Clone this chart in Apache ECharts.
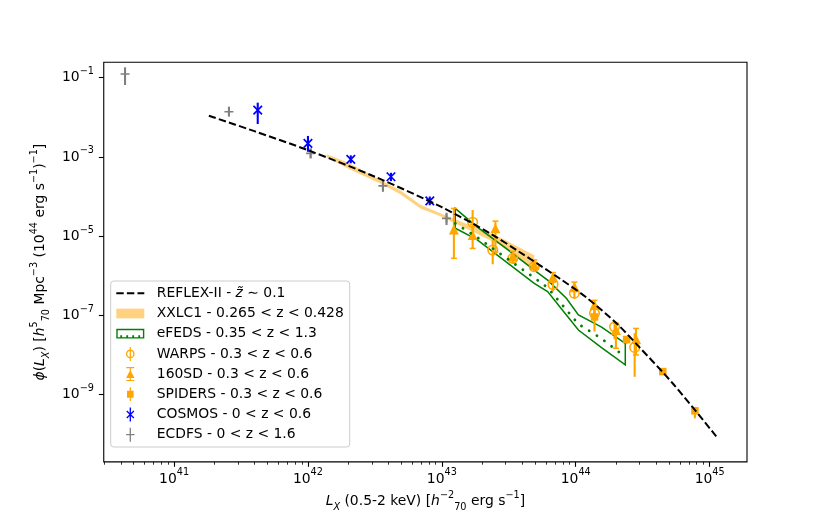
<!DOCTYPE html>
<html>
<head>
<meta charset="utf-8">
<script src="https://cdn.jsdelivr.net/npm/echarts@6/dist/echarts.min.js"></script>
<style>
  html, body { margin: 0; padding: 0; background: #fff; }
  #chart { width: 830px; height: 519px; }
</style>
</head>
<body>
<div id="chart"></div>
<script>
// every value below is log10(L_X) or log10(phi)
const xMajorTicks = [41, 42, 43, 44, 45];
const yMajorTicks = [-9, -7, -5, -3, -1];

const reflexLogLx  = [41.26, 41.6, 42.0, 42.5, 43.0, 43.36, 43.58, 43.88, 44.08, 44.31, 44.48, 44.73, 45.06];
const reflexLogPhi = [-1.96, -2.35, -2.83, -3.50, -4.27, -4.93, -5.40, -6.07, -6.55, -7.22, -7.82, -8.74, -10.10];

const xxlLogLx = [42.14, 42.31, 42.54, 42.69, 42.84, 42.99, 43.25, 43.43, 43.69];
const xxlUpper = [-2.93, -3.16, -3.58, -3.84, -4.21, -4.42, -4.78, -5.02, -5.48];
const xxlLower = [-3.01, -3.31, -3.67, -3.94, -4.30, -4.50, -4.92, -5.22, -5.86];

const efedsLogLx  = [43.10, 43.26, 43.48, 43.69, 43.79, 43.93, 44.02, 44.19, 44.37];
const efedsUpper  = [-4.30, -4.76, -5.31, -5.86, -6.11, -6.57, -6.99, -7.29, -7.71];
const efedsLower  = [-4.80, -5.08, -5.65, -6.19, -6.40, -6.99, -7.37, -7.81, -8.25];
const efedsMedian = [-4.68, -5.02, -5.55, -6.05, -6.30, -6.86, -7.22, -7.58, -8.05];

const warpsLogLx  = [43.23, 43.38, 43.53, 43.69, 43.83, 43.99, 44.14, 44.29, 44.44];
const warpsLogPhi = [-4.65, -5.35, -5.56, -5.77, -6.22, -6.44, -6.95, -7.29, -7.81];
const warpsLo     = [-4.98, -5.71, -5.70, -5.90, -6.40, -6.58, -7.15, -7.60, -8.55];
const warpsHi     = [-4.34, -5.10, -5.44, -5.66, -6.05, -6.30, -6.80, -7.16, -7.45];

const sdLogLx  = [43.09, 43.23, 43.40, 43.53, 43.69, 43.83, 43.99, 44.14, 44.30, 44.45];
const sdLogPhi = [-4.83, -4.97, -4.80, -5.50, -5.72, -6.03, -6.28, -6.74, -7.37, -7.60];
const sdLo     = [-5.56, -5.31, -5.40, -5.62, -5.84, -6.16, -6.40, -7.00, -7.83, -8.00];
const sdHi     = [-4.30, -4.70, -4.62, -5.38, -5.60, -5.92, -6.16, -6.62, -7.20, -7.33];

const spidersLogLx  = [44.14, 44.38, 44.65, 44.89];
const spidersLogPhi = [-7.04, -7.61, -8.42, -9.41];
const spidersLo     = [-7.41, -7.72, -8.47, -9.60];
const spidersHi     = [-6.90, -7.52, -8.37, -9.31];

const cosmosLogLx  = [41.625, 42.0, 42.32, 42.62, 42.91];
const cosmosLogPhi = [-1.82, -2.66, -3.06, -3.50, -4.11];
const cosmosLo     = [-2.17, -2.87, -3.16, -3.61, -4.22];
const cosmosHi     = [-1.63, -2.47, -2.96, -3.40, -4.00];

const ecdfsLogLx  = [40.634, 41.41, 42.02, 42.56, 43.035];
const ecdfsLogPhi = [-0.907, -1.86, -2.91, -3.73, -4.55];
const ecdfsLo     = [-1.184, -1.98, -3.04, -3.88, -4.72];
const ecdfsHi     = [-0.737, -1.73, -2.78, -3.58, -4.41];

const xMin = 40.475, xMax = 45.279;
const yMin = -10.70, yMax = -0.611;

const FONT = 'DejaVu Sans';
const FS = 13.9;
const ORANGE = '#FFA500', BLUE = '#0000FF', GRAY = '#808080', GREEN = '#008000';

const NAMES = {
  reflex: 'REFLEX-II - z\u0303 \u223C 0.1',
  xxl: 'XXLC1 - 0.265 < z < 0.428',
  efeds: 'eFEDS - 0.35 < z < 1.3',
  warps: 'WARPS - 0.3 < z < 0.6',
  sd: '160SD - 0.3 < z < 0.6',
  spiders: 'SPIDERS - 0.3 < z < 0.6',
  cosmos: 'COSMOS - 0 < z < 0.6',
  ecdfs: 'ECDFS - 0 < z < 1.6'
};

// minor ticks for the log x axis (2..9 x 10^n)
const xMinorTicks = [];
for (let n = 40; n <= 45; n++) {
  for (let k = 2; k <= 9; k++) {
    const v = n + Math.log10(k);
    if (v > xMin && v < xMax) xMinorTicks.push(v);
  }
}

const pts = (xs, ys) => xs.map((x, i) => [x, ys[i]]);

const tickRich = {
  b: { fontFamily: FONT, fontSize: FS, lineHeight: 22, color: '#000' },
  s: { fontFamily: FONT, fontSize: 9.7, lineHeight: 12, verticalAlign: 'top', color: '#000' }
};
const powLabel = v => {
  const n = Math.round(v);
  return '{b|10}{s|' + (n < 0 ? '\u2212' + (-n) : n) + '}';
};

const nameRich = {
  t: { fontFamily: FONT, fontSize: FS, lineHeight: 22, color: '#000' },
  i: { fontFamily: FONT, fontSize: FS, lineHeight: 22, fontStyle: 'italic', color: '#000' },
  sup: { fontFamily: FONT, fontSize: 9.7, lineHeight: 12, verticalAlign: 'top', color: '#000' },
  sub: { fontFamily: FONT, fontSize: 9.7, lineHeight: 13, verticalAlign: 'bottom', fontStyle: 'italic', color: '#000' },
  subn: { fontFamily: FONT, fontSize: 9.7, lineHeight: 13, verticalAlign: 'bottom', color: '#000' }
};

function errorBars(name, xs, lo, hi, color, cap) {
  return {
    type: 'custom',
    name: name,
    silent: true,
    data: xs.map((x, i) => [x, lo[i], hi[i]]),
    encode: { x: 0, y: [1, 2] },
    renderItem: function (params, api) {
      const a = api.coord([api.value(0), api.value(1)]);
      const b = api.coord([api.value(0), api.value(2)]);
      const kids = [{
        type: 'line',
        shape: { x1: a[0], y1: a[1], x2: b[0], y2: b[1] },
        style: { stroke: color, lineWidth: 2.1 }
      }];
      if (cap) {
        [a, b].forEach(p => kids.push({
          type: 'line',
          shape: { x1: p[0] - cap, y1: p[1], x2: p[0] + cap, y2: p[1] },
          style: { stroke: color, lineWidth: 1.5 }
        }));
      }
      return { type: 'group', children: kids };
    }
  };
}

function band(name, xs, up, low, style) {
  return {
    type: 'custom',
    name: name,
    silent: true,
    data: [[xs[0], up[0]]],
    renderItem: function (params, api) {
      const poly = xs.map((x, i) => api.coord([x, up[i]]))
        .concat(xs.map((x, i) => api.coord([x, low[i]])).reverse());
      return { type: 'polygon', shape: { points: poly }, style: style };
    }
  };
}

// legend handles, drawn as filled paths
const ICONS = {
  reflex: 'path://M0,0H7.4V2.1H0Z M10.6,0H18V2.1H10.6Z M21.2,0H28V2.1H21.2Z',
  xxl: 'path://M0,0H28V9.7H0Z',
  efeds: 'path://M0,0H28V9.7H0Z M1.4,1.4V8.3H26.6V1.4Z M4,6.5H5.8V8.3H4Z M10,6.5H11.8V8.3H10Z M16,6.5H17.8V8.3H16Z M22,6.5H23.8V8.3H22Z',
  warps: 'path://M0.2,7A4.3,4.3 0 1,1 8.8,7A4.3,4.3 0 1,1 0.2,7Z M1.5,7A3,3 0 1,0 7.5,7A3,3 0 1,0 1.5,7Z M3.9,0H5.1V14H3.9Z',
  sd: 'path://M0.5,0H8.5V1.2H0.5Z M0.5,12.8H8.5V14H0.5Z M3.9,0H5.1V14H3.9Z M4.5,2.8L8.7,11L0.3,11Z',
  spiders: 'path://M1.2,3.5H7.8V10.5H1.2Z M3.9,0H5.1V14H3.9Z',
  cosmos: 'path://M0.5,3.9L1.4,3L8.5,10.1L7.6,11Z M7.6,3L8.5,3.9L1.4,11L0.5,10.1Z M3.85,0H5.15V14H3.85Z',
  ecdfs: 'path://M0.3,6.35H8.7V7.65H0.3Z M3.85,0H5.15V14H3.85Z'
};
const legendItem = (key, color) => ({
  name: NAMES[key], icon: ICONS[key], itemStyle: { color: color, borderWidth: 0 }
});

const chart = echarts.init(document.getElementById('chart'), null, { renderer: 'canvas' });

const option = {
  animation: false,
  backgroundColor: '#fff',
  grid: {
    left: 103.75, right: 83, top: 62.3, bottom: 57.1,
    show: true, borderColor: '#000', borderWidth: 1.1,
    outerBoundsMode: 'none'
  },
  xAxis: [{
    type: 'value', min: xMin, max: xMax, position: 'bottom',
    axisLine: { show: false },
    splitLine: { show: false },
    axisTick: { show: true, customValues: xMajorTicks, length: 4.9, lineStyle: { color: '#000', width: 1.1 } },
    axisLabel: { customValues: xMajorTicks, formatter: powLabel, margin: 6, rich: tickRich },
    name: '{i|L}{sub|X}{t| (0.5-2 keV) [}{i|h}{sup|\u22122}{subn|70}{t| erg s}{sup|\u22121}{t|]}',
    nameLocation: 'middle', nameGap: 26,
    nameTextStyle: { rich: nameRich }
  }, {
    type: 'value', min: xMin, max: xMax, position: 'bottom',
    axisLine: { show: false },
    splitLine: { show: false },
    axisLabel: { show: false },
    axisTick: { show: true, customValues: xMinorTicks, length: 2.8, lineStyle: { color: '#000', width: 0.8 } }
  }],
  yAxis: [{
    type: 'value', min: yMin, max: yMax,
    axisLine: { show: false },
    splitLine: { show: false },
    axisTick: { show: true, customValues: yMajorTicks, length: 4.9, lineStyle: { color: '#000', width: 1.1 } },
    axisLabel: { customValues: yMajorTicks, formatter: powLabel, margin: 9.8, rich: tickRich },
    name: '{i|\u03D5}{t|(}{i|L}{sub|X}{t|) [}{i|h}{sup|5}{subn|70}{t| Mpc}{sup|\u22123}{t| (10}{sup|44}{t| erg s}{sup|\u22121}{t|)}{sup|\u22121}{t|]}',
    nameLocation: 'middle', nameRotate: 90, nameGap: 42,
    nameTextStyle: { rich: nameRich }
  }],
  legend: {
    orient: 'vertical',
    left: 110.7, top: 281,
    itemWidth: 28, itemHeight: 14, itemGap: 6.2,
    padding: [5.3, 6, 5.3, 5.6],
    backgroundColor: 'rgba(255,255,255,0.8)',
    borderColor: '#cccccc', borderWidth: 1, borderRadius: 3,
    selectedMode: false,
    symbolKeepAspect: true,
    textStyle: {
      fontFamily: FONT, fontSize: FS, color: '#000', padding: [0, 0, 0, 7.5],
      rich: {
        t: { fontFamily: FONT, fontSize: FS, lineHeight: 15, color: '#000' },
        i: { fontFamily: FONT, fontSize: FS, lineHeight: 15, fontStyle: 'italic', color: '#000' }
      }
    },
    formatter: function (name) {
      if (name === NAMES.reflex) return '{t|REFLEX-II - }{i|z\u0303}{t| \u223C 0.1}';
      return '{t|' + name + '}';
    },
    data: [
      legendItem('reflex', '#000'),
      legendItem('xxl', 'rgba(255,165,0,0.5)'),
      legendItem('efeds', GREEN),
      legendItem('warps', ORANGE),
      legendItem('sd', ORANGE),
      legendItem('spiders', ORANGE),
      legendItem('cosmos', BLUE),
      legendItem('ecdfs', GRAY)
    ]
  },
  series: [
    band(NAMES.xxl, xxlLogLx, xxlUpper, xxlLower, { fill: 'rgba(255,165,0,0.5)' }),
    band(NAMES.efeds, efedsLogLx, efedsUpper, efedsLower, { fill: 'none', stroke: GREEN, lineWidth: 1.5 }),
    {
      type: 'line', name: 'eFEDS median', silent: true,
      data: pts(efedsLogLx, efedsMedian),
      showSymbol: false, symbol: 'none',
      lineStyle: { color: GREEN, width: 2.8, type: [0.1, 9], cap: 'round' }
    },
    {
      type: 'line', name: NAMES.reflex, silent: true,
      data: pts(reflexLogLx, reflexLogPhi),
      showSymbol: false, symbol: 'none', smooth: 0.3,
      lineStyle: { color: '#000', width: 2, type: [7.4, 3.2] }
    },
    errorBars('WARPS err', warpsLogLx, warpsLo, warpsHi, ORANGE, 0),
    {
      type: 'scatter', name: NAMES.warps, silent: true,
      data: pts(warpsLogLx, warpsLogPhi),
      symbol: 'circle', symbolSize: 9.5,
      itemStyle: { color: 'rgba(0,0,0,0)', borderColor: ORANGE, borderWidth: 1.6, opacity: 1 }
    },
    errorBars('160SD err', sdLogLx, sdLo, sdHi, ORANGE, 3),
    {
      type: 'scatter', name: NAMES.sd, silent: true,
      data: pts(sdLogLx, sdLogPhi),
      symbol: 'triangle', symbolSize: 10,
      itemStyle: { color: ORANGE, opacity: 1 }
    },
    errorBars('SPIDERS err', spidersLogLx, spidersLo, spidersHi, ORANGE, 0),
    {
      type: 'scatter', name: NAMES.spiders, silent: true,
      data: pts(spidersLogLx, spidersLogPhi),
      symbol: 'rect', symbolSize: 7.5,
      itemStyle: { color: ORANGE, opacity: 1 }
    },
    errorBars('COSMOS err', cosmosLogLx, cosmosLo, cosmosHi, BLUE, 0),
    {
      type: 'scatter', name: NAMES.cosmos, silent: true,
      data: pts(cosmosLogLx, cosmosLogPhi),
      symbol: 'path://M0,0L10,10M10,0L0,10', symbolSize: 8.5,
      itemStyle: { color: 'rgba(0,0,0,0)', borderColor: BLUE, borderWidth: 1.7, opacity: 1 }
    },
    errorBars('ECDFS err', ecdfsLogLx, ecdfsLo, ecdfsHi, GRAY, 0),
    {
      type: 'scatter', name: NAMES.ecdfs, silent: true,
      data: pts(ecdfsLogLx, ecdfsLogPhi),
      symbol: 'path://M0,5L10,5M5,0L5,10', symbolSize: 9,
      itemStyle: { color: 'rgba(0,0,0,0)', borderColor: GRAY, borderWidth: 1.7, opacity: 1 }
    }
  ]
};

chart.setOption(option);
</script>
</body>
</html>
